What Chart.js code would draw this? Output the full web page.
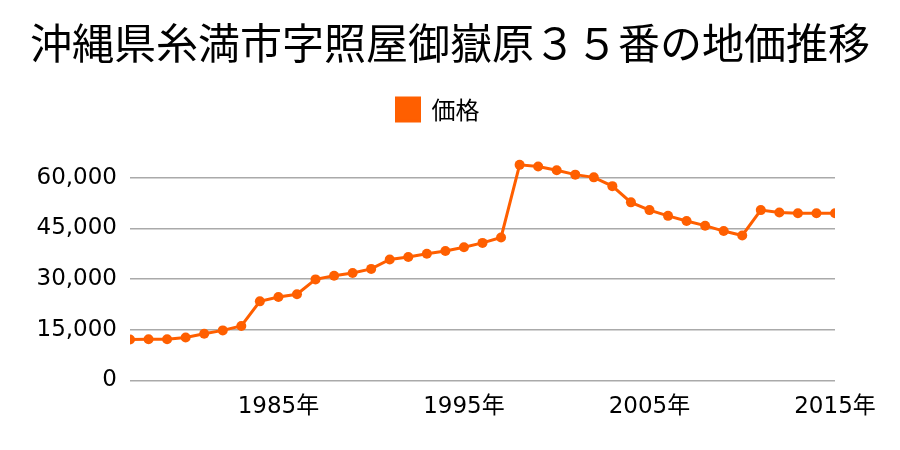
<!DOCTYPE html>
<html>
<head>
<meta charset="utf-8">
<script src="https://cdn.jsdelivr.net/npm/chart.js@4.4.1/dist/chart.umd.min.js"></script>
<style>
  body { margin: 0; background: #fff; }
  #wrap { width: 900px; height: 450px; }
</style>
</head>
<body>
<div id="wrap"><canvas id="chiKa" width="900" height="450"></canvas></div>
<script>
// 年ごとの地価 (円/m2)
const nendo = [1977, 1978, 1979, 1980, 1981, 1982, 1983, 1984, 1985, 1986,
               1987, 1988, 1989, 1990, 1991, 1992, 1993, 1994, 1995, 1996,
               1997, 1998, 1999, 2000, 2001, 2002, 2003, 2004, 2005, 2006,
               2007, 2008, 2009, 2010, 2011, 2012, 2013, 2014, 2015]
const kakaku = [12100, 12200, 12200, 12700, 13800, 14800, 16100, 23400, 24700, 25500,
                29900, 31000, 31800, 33000, 35800, 36500, 37500, 38300, 39400, 40700,
                42300, 63800, 63300, 62200, 60900, 60100, 57500, 52700, 50400, 48700,
                47200, 45800, 44200, 42900, 50400, 49700, 49500, 49500, 49500]
const xTicks = [1985, 1995, 2005, 2015]
const yTicks = [0, 15000, 30000, 45000, 60000]

const fuenteJp = '"Noto Sans CJK JP", sans-serif'
const fuenteNum = '"DejaVu Sans", "Noto Sans CJK JP", sans-serif'
const naranja = '#ff5f00'

// la leyenda del original no esta centrada, la corro un poco a la izquierda
const moverLeyenda = {
    id: 'moverLeyenda',
    afterLayout(chart) {
        chart.legend.left -= 12
        chart.legend.right -= 12
    }
}

let ctx = document.getElementById('chiKa')

let grafico = new Chart(ctx, {
    type: 'line',
    data: {
        datasets: [
            {
            label: '価格',
            data: nendo.map((a, i) => ({x: a, y: kakaku[i]})),
            borderColor: naranja,
            backgroundColor: naranja,
            borderWidth: 3,
            pointRadius: 5,
            pointHoverRadius: 5,
            pointBorderWidth: 0,
            tension: 0
            }
        ]
    },
    plugins: [moverLeyenda],
    options: {
        responsive: false,
        animation: false,
        layout: {padding: {left: 0, right: 0, top: 0, bottom: 24}},
        plugins: {
            title: {
                display: true,
                text: '沖縄県糸満市字照屋御嶽原３５番の地価推移',
                color: '#000',
                font: {family: fuenteJp, size: 42, weight: 'normal'},
                padding: {top: 18, bottom: 19}
            },
            legend: {
                labels: {
                    color: '#000',
                    font: {family: fuenteJp, size: 24},
                    boxWidth: 23,
                    boxHeight: 23,
                    padding: 10
                }
            },
            tooltip: {enabled: false}
        },
        scales: {
            x: {
                type: 'linear',
                min: 1977,
                max: 2015,
                afterBuildTicks: axis => { axis.ticks = xTicks.map(v => ({value: v})) },
                grid: {display: false},
                border: {display: false},
                ticks: {
                    color: '#000',
                    font: {family: fuenteNum, size: 23},
                    maxRotation: 0,
                    padding: 5,
                    callback: v => v + '年'
                }
            },
            y: {
                min: 0,
                max: 73700,
                afterBuildTicks: axis => { axis.ticks = yTicks.map(v => ({value: v})) },
                afterFit: axis => { axis.width = 130 },
                grid: {color: '#aaaaaa', lineWidth: 1.5, drawTicks: false},
                border: {display: false},
                ticks: {
                    color: '#000',
                    font: {family: fuenteNum, size: 23},
                    padding: 13,
                    callback: v => v.toLocaleString('en-US')
                }
            },
            // solo para dejar el margen derecho
            derecha: {
                position: 'right',
                afterFit: axis => { axis.width = 65 },
                grid: {display: false},
                border: {display: false},
                ticks: {display: false}
            }
        }
    }
})
</script>
</body>
</html>
